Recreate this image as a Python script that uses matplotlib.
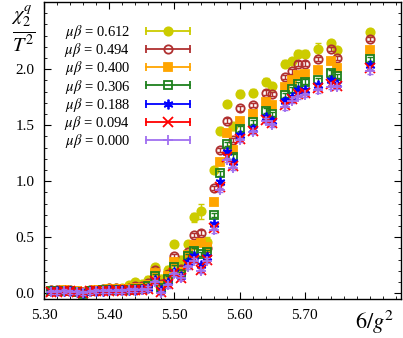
import matplotlib
matplotlib.use('Agg')
import matplotlib.pyplot as plt
from matplotlib.lines import Line2D
from matplotlib.legend_handler import HandlerLine2D, HandlerTuple
import numpy as np

plt.rcParams['font.family'] = 'Liberation Serif'
plt.rcParams['mathtext.fontset'] = 'stix'

# 6/g^2 values
beta = [5.31, 5.32, 5.33, 5.34, 5.35, 5.36, 5.37, 5.38, 5.39, 5.40, 5.41, 5.42,
        5.43, 5.44, 5.45, 5.46, 5.47, 5.48, 5.49, 5.50, 5.51, 5.52, 5.53, 5.54,
        5.55, 5.56, 5.57, 5.58, 5.59, 5.60, 5.62, 5.64, 5.65, 5.67, 5.68, 5.69,
        5.70, 5.72, 5.74, 5.75, 5.80]

mub_labels = ['0.612', '0.494', '0.400', '0.306', '0.188', '0.094', '0.000']

chi_0612 = [.03, .03, .03, .03, .02, .01, .03, .03, .04, .05, .05, .05, .07, .10, .08, .12,
            .23, .13, .21, .44, .30, .44, .68, .73, .46, 1.10, 1.45, 1.69, 1.49, 1.78,
            1.79, 1.89, 1.85, 2.05, 2.07, 2.14, 2.14, 2.18, 2.23, 2.17, 2.33]
chi_0494 = [.03, .03, .03, .03, .02, .01, .03, .03, .04, .05, .05, .04, .05, .06, .06, .09,
            .205, .08, .17, .33, .22, .37, .52, .54, .40, .94, 1.28, 1.54, 1.37, 1.65,
            1.68, 1.79, 1.78, 1.93, 1.98, 2.05, 2.05, 2.09, 2.18, 2.10, 2.27]
chi_0400 = [.02, .02, .03, .02, .02, .00, .02, .03, .03, .04, .04, .04, .04, .05, .05, .07,
            .18, .06, .15, .28, .19, .34, .43, .45, .41, .815, 1.17, 1.43, 1.28, 1.54,
            1.60, 1.71, 1.68, 1.84, 1.90, 1.95, 1.96, 1.99, 2.07, 2.01, 2.17]
chi_0306 = [.02, .02, .02, .02, .01, -.01, .02, .02, .03, .03, .03, .03, .03, .04, .04, .06,
            .15, .05, .13, .235, .17, .33, .38, .35, .37, .70, 1.07, 1.33, 1.22, 1.47,
            1.53, 1.63, 1.60, 1.77, 1.82, 1.87, 1.89, 1.90, 1.97, 1.94, 2.09]
chi_0188 = [.02, .02, .02, .02, .01, .00, .02, .02, .02, .03, .03, .03, .03, .03, .04, .05,
            .12, .03, .10, .19, .15, .28, .33, .25, .32, .62, .99, 1.26, 1.17, 1.41,
            1.47, 1.57, 1.54, 1.72, 1.75, 1.81, 1.81, 1.86, 1.90, 1.87, 2.04]
chi_0094 = [.01, .01, .02, .02, .01, .00, .02, .02, .02, .02, .03, .02, .03, .03, .03, .04,
            .11, .01, .08, .18, .14, .25, .30, .21, .30, .58, .95, 1.22, 1.14, 1.38,
            1.45, 1.55, 1.52, 1.68, 1.73, 1.78, 1.79, 1.83, 1.87, 1.85, 2.01]
chi_0000 = [.01, .01, .02, .01, .01, .00, .01, .02, .02, .02, .02, .02, .03, .03, .03, .04,
            .10, .00, .07, .17, .14, .235, .29, .20, .29, .56, .92, 1.19, 1.12, 1.37,
            1.44, 1.54, 1.50, 1.66, 1.72, 1.75, 1.77, 1.81, 1.84, 1.84, 1.98]

err_0612 = [.02, .02, .02, .02, .02, .02, .02, .02, .02, .02, .02, .02, .02, .03, .02, .03,
            .03, .03, .03, .03, .03, .03, .04, .07, .04, .03, .03, .03, .03, .03,
            .03, .03, .03, .03, .03, .03, .03, .05, .03, .03, .03]
err_rest = [.02, .02, .02, .02, .02, .02]  # typical error for the other series

series = [chi_0612, chi_0494, chi_0400, chi_0306, chi_0188, chi_0094, chi_0000]
colors = ['#cccc00', '#b03030', '#ffa500', '#1e801e', '#0000ff', '#ff0000', '#a070f0']
markers = ['o', 'o', 's', 's', (6, 2, 0), 'x', '+']
filled = [True, False, True, False, True, True, True]
msizes = [6, 6, 6, 6, 7, 6.5, 7.5]

fig = plt.figure(figsize=(4.03, 3.38), dpi=100)
ax = fig.add_axes([0.110, 0.116, 0.885, 0.878])

handles = []
hmap = {}
for i, (y, c, m, f, ms) in enumerate(zip(series, colors, markers, filled, msizes)):
    err = err_0612 if i == 0 else err_rest[i - 1]
    mfc = c if f else 'none'
    ax.errorbar(beta, y, yerr=err, fmt='none', ecolor=c, elinewidth=1.0,
                capsize=2.5, capthick=1.0, zorder=2 + i)
    ax.plot(beta, y, ls='none', marker=m, color=c, mfc=mfc, mec=c,
            mew=1.3, ms=ms, zorder=2 + i)
    capline = Line2D([], [], color=c, lw=1.3, marker='|', ms=6, mew=1.3)
    mk = Line2D([], [], ls='none', marker=m, color=c, mfc=mfc, mec=c, mew=1.3, ms=ms)
    hmap[capline] = HandlerLine2D(numpoints=2)
    hmap[mk] = HandlerLine2D(numpoints=1)
    handles.append((capline, mk))

hmap[tuple] = HandlerTuple(ndivide=1)
labels = [r'$\mu\beta$ = ' + s for s in mub_labels]
leg = ax.legend(handles, labels, handler_map=hmap, loc='upper left',
                bbox_to_anchor=(0.04, 0.95), markerfirst=False, frameon=False,
                fontsize=10.5, handlelength=3.6, handletextpad=0.8,
                labelspacing=0.02, borderaxespad=0.0)
for t in leg.get_texts():
    t.set_ha('right')

ax.set_xlim(5.30, 5.848)
ax.set_ylim(-0.05, 2.6)
ax.set_xticks([5.30, 5.40, 5.50, 5.60, 5.70])
ax.set_xticklabels(['5.30', '5.40', '5.50', '5.60', '5.70'])
ax.set_xticks(np.arange(5.30, 5.85, 0.02), minor=True)
ax.set_yticks([0.0, 0.5, 1.0, 1.5, 2.0])
ax.set_yticklabels(['0.0', '0.5', '1.0', '1.5', '2.0'])
ax.set_yticks(np.arange(-0.0, 2.6, 0.1), minor=True)
ax.tick_params(which='both', direction='in', top=True, right=True, labelsize=11)
ax.tick_params(which='major', length=5, pad=7)
ax.tick_params(which='minor', length=2.5)
for s in ax.spines.values():
    s.set_linewidth(1.0)

fig.text(0.058, 0.915, r'$\frac{\chi_2^q}{T^2}$', fontsize=21, ha='center', va='center')
fig.text(0.93, 0.045, r'$6/g^2$', fontsize=16, ha='center', va='center')

fig.savefig('out.png', dpi=100)
